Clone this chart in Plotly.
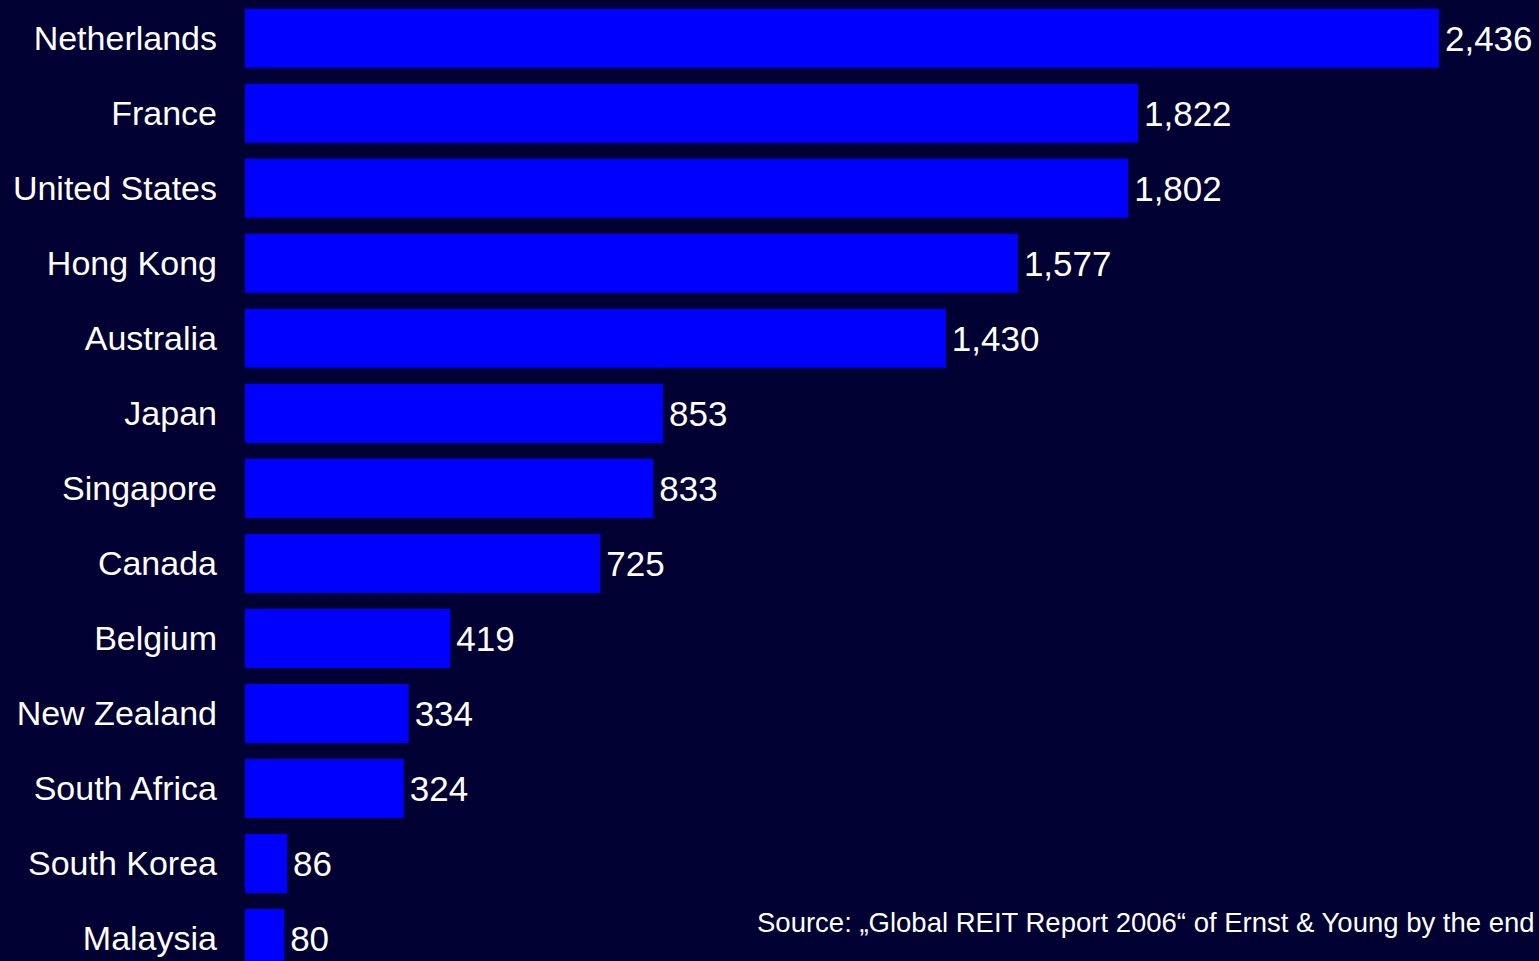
import plotly.graph_objects as go

# REIT market capitalisation by country
countries = ["Netherlands", "France", "United States", "Hong Kong", "Australia",
             "Japan", "Singapore", "Canada", "Belgium", "New Zealand",
             "South Africa", "South Korea", "Malaysia"]
values = [2436, 1822, 1802, 1577, 1430, 853, 833, 725, 419, 334, 324, 86, 80]
# a hair space in front gives the value labels a little air from the bar end
value_labels = ["\u200a" + f"{v:,}" for v in values]
source_note = "Source: \u201eGlobal REIT Report 2006\u201c of Ernst & Young by the end"

BG = "#000033"
BAR = "#0000FF"
FONT = "Liberation Sans, Arial, sans-serif"

positions = list(range(len(countries)))

fig = go.Figure(
    go.Bar(
        x=values,
        y=positions,
        orientation="h",
        width=0.787,
        marker=dict(color=BAR, line=dict(width=0)),
        text=value_labels,
        textposition="outside",
        textfont=dict(color="white", size=35, family=FONT),
        constraintext="none",
        cliponaxis=False,
        hoverinfo="skip",
    )
)

fig.update_layout(
    width=1539,
    height=961,
    margin=dict(l=245, r=0, t=0, b=0),
    paper_bgcolor=BG,
    plot_bgcolor=BG,
    showlegend=False,
    font=dict(family=FONT, color="white"),
    xaxis=dict(range=[0, 2640], visible=False, fixedrange=True),
    yaxis=dict(
        range=[12.30, -0.51],
        tickmode="array",
        tickvals=positions,
        ticktext=countries,
        tickfont=dict(size=34, color="white", family=FONT),
        ticklabelstandoff=27,
        showgrid=False,
        zeroline=False,
        showline=False,
        ticks="",
        fixedrange=True,
    ),
    annotations=[
        dict(
            text=source_note,
            xref="paper", yref="paper",
            x=0.9985, y=0.040,
            xanchor="right", yanchor="middle",
            showarrow=False,
            font=dict(size=27.5, color="white", family=FONT),
        )
    ],
)

fig.write_html("out.html", config={"displayModeBar": False})
